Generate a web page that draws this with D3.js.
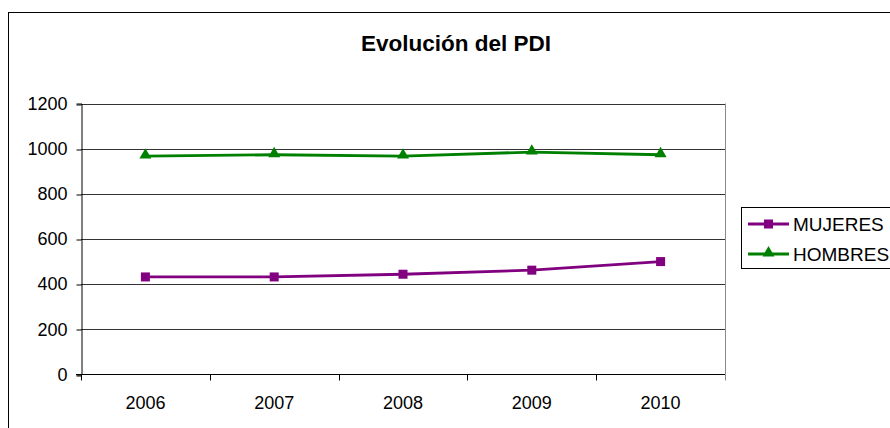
<!DOCTYPE html>
<html>
<head>
<meta charset="utf-8">
<script src="https://cdn.jsdelivr.net/npm/d3@7"></script>
<style>
	body { margin: 0; background: #fff; }
	text { font-family: 'Liberation Sans', Arial, sans-serif; }
</style>
</head>
<body>
<script>
const width = 890;
const height = 428;

const YEARS = ['2006', '2007', '2008', '2009', '2010'];
const MUJERES = [432, 432, 444, 462, 500];
const HOMBRES = [967, 973, 967, 985, 973];
const Y_TICKS = [0, 200, 400, 600, 800, 1000, 1200];

const MUJERES_COLOR = '#800080';
const HOMBRES_COLOR = '#008000';

const plot = { left: 81, right: 725, top: 103.5, bottom: 374.5 };

const svg = d3.select('body')
	.append('svg')
	.attr('width', width)
	.attr('height', height);

// chart border (runs off the picture on the right and bottom)
svg.append('rect')
	.attr('x', 8.5)
	.attr('y', 12.5)
	.attr('width', 900)
	.attr('height', 430)
	.attr('fill', 'none')
	.attr('stroke', '#000');

svg.append('text')
	.attr('x', 456)
	.attr('y', 51)
	.attr('text-anchor', 'middle')
	.attr('font-size', 22.5)
	.attr('font-weight', 'bold')
	.text('Evolución del PDI');

const x = d3.scaleBand().domain(YEARS).range([plot.left, plot.right]);
const y = d3.scaleLinear().domain([0, 1200]).range([plot.bottom, plot.top]);

// gridlines
svg.append('g')
	.selectAll('line')
	.data(Y_TICKS.filter(d => d > 0))
	.enter()
	.append('line')
	.attr('x1', plot.left)
	.attr('x2', plot.right)
	.attr('y1', d => Math.round(y(d)) + 0.5)
	.attr('y2', d => Math.round(y(d)) + 0.5)
	.attr('stroke', '#333');

// plot area right edge
svg.append('line')
	.attr('x1', plot.right + 0.5)
	.attr('x2', plot.right + 0.5)
	.attr('y1', plot.top)
	.attr('y2', plot.bottom)
	.attr('stroke', '#888');

// y axis
const yAxis = svg.append('g')
	.attr('transform', `translate(${plot.left + 0.5},0)`)
	.call(d3.axisLeft(y).tickValues(Y_TICKS).tickSize(5).tickPadding(9)
		.tickFormat(d3.format('d')));
yAxis.selectAll('line').attr('stroke', '#000')
	.attr('transform', d => `translate(0,${Math.round(y(d)) + 0.5 - y(d)})`);
yAxis.select('.domain').attr('stroke', '#000');
yAxis.selectAll('text').attr('font-size', 18).attr('fill', '#000')
	.attr('font-family', "'Liberation Sans', Arial, sans-serif");

// x axis, ticks between categories
const xg = svg.append('g')
	.attr('transform', `translate(0,${plot.bottom})`);
xg.append('line')
	.attr('x1', plot.left - 5)
	.attr('x2', plot.right)
	.attr('y1', 0)
	.attr('y2', 0)
	.attr('stroke', '#000');
xg.selectAll('.tick')
	.data(YEARS.concat(['end']))
	.enter()
	.append('line')
	.attr('x1', (d, i) => Math.round(plot.left + i * x.bandwidth()) + 0.5)
	.attr('x2', (d, i) => Math.round(plot.left + i * x.bandwidth()) + 0.5)
	.attr('y1', 0)
	.attr('y2', 6)
	.attr('stroke', (d, i) => i === YEARS.length ? '#888' : '#000');
xg.selectAll('text')
	.data(YEARS)
	.enter()
	.append('text')
	.attr('x', d => x(d) + x.bandwidth() / 2)
	.attr('y', 34)
	.attr('text-anchor', 'middle')
	.attr('font-size', 18)
	.text(d => d);

const cx = d => x(d) + x.bandwidth() / 2;
const line = d3.line().x((d, i) => cx(YEARS[i])).y(d => y(d));

const triangle = d3.symbol().type(d3.symbolTriangle).size(62);

function drawSeries(values, color, marker) {
	svg.append('path')
		.datum(values)
		.attr('d', line)
		.attr('fill', 'none')
		.attr('stroke', color)
		.attr('stroke-width', 2.8);
	const g = svg.append('g');
	if (marker === 'square') {
		g.selectAll('rect')
			.data(values)
			.enter()
			.append('rect')
			.attr('x', (d, i) => cx(YEARS[i]) - 4.5)
			.attr('y', d => y(d) - 4.5)
			.attr('width', 9)
			.attr('height', 9)
			.attr('fill', color);
	} else {
		g.selectAll('path')
			.data(values)
			.enter()
			.append('path')
			.attr('d', triangle)
			.attr('transform', (d, i) => `translate(${cx(YEARS[i])},${y(d) - 1})`)
			.attr('fill', color);
	}
}

drawSeries(MUJERES, MUJERES_COLOR, 'square');
drawSeries(HOMBRES, HOMBRES_COLOR, 'triangle');

// legend
const legend = svg.append('g');
legend.append('rect')
	.attr('x', 741.5)
	.attr('y', 207.5)
	.attr('width', 160)
	.attr('height', 61)
	.attr('fill', '#fff')
	.attr('stroke', '#000');

const legendItems = [
	{ name: 'MUJERES', color: MUJERES_COLOR, marker: 'square', y: 224 },
	{ name: 'HOMBRES', color: HOMBRES_COLOR, marker: 'triangle', y: 254 }
];
legendItems.forEach(item => {
	legend.append('line')
		.attr('x1', 748)
		.attr('x2', 789)
		.attr('y1', item.y)
		.attr('y2', item.y)
		.attr('stroke', item.color)
		.attr('stroke-width', 2.8);
	if (item.marker === 'square') {
		legend.append('rect')
			.attr('x', 764)
			.attr('y', item.y - 4.5)
			.attr('width', 9)
			.attr('height', 9)
			.attr('fill', item.color);
	} else {
		legend.append('path')
			.attr('d', triangle)
			.attr('transform', `translate(768.5,${item.y - 1})`)
			.attr('fill', item.color);
	}
	legend.append('text')
		.attr('x', 793)
		.attr('y', item.y + 7)
		.attr('font-size', 19)
		.text(item.name);
});
</script>
</body>
</html>
